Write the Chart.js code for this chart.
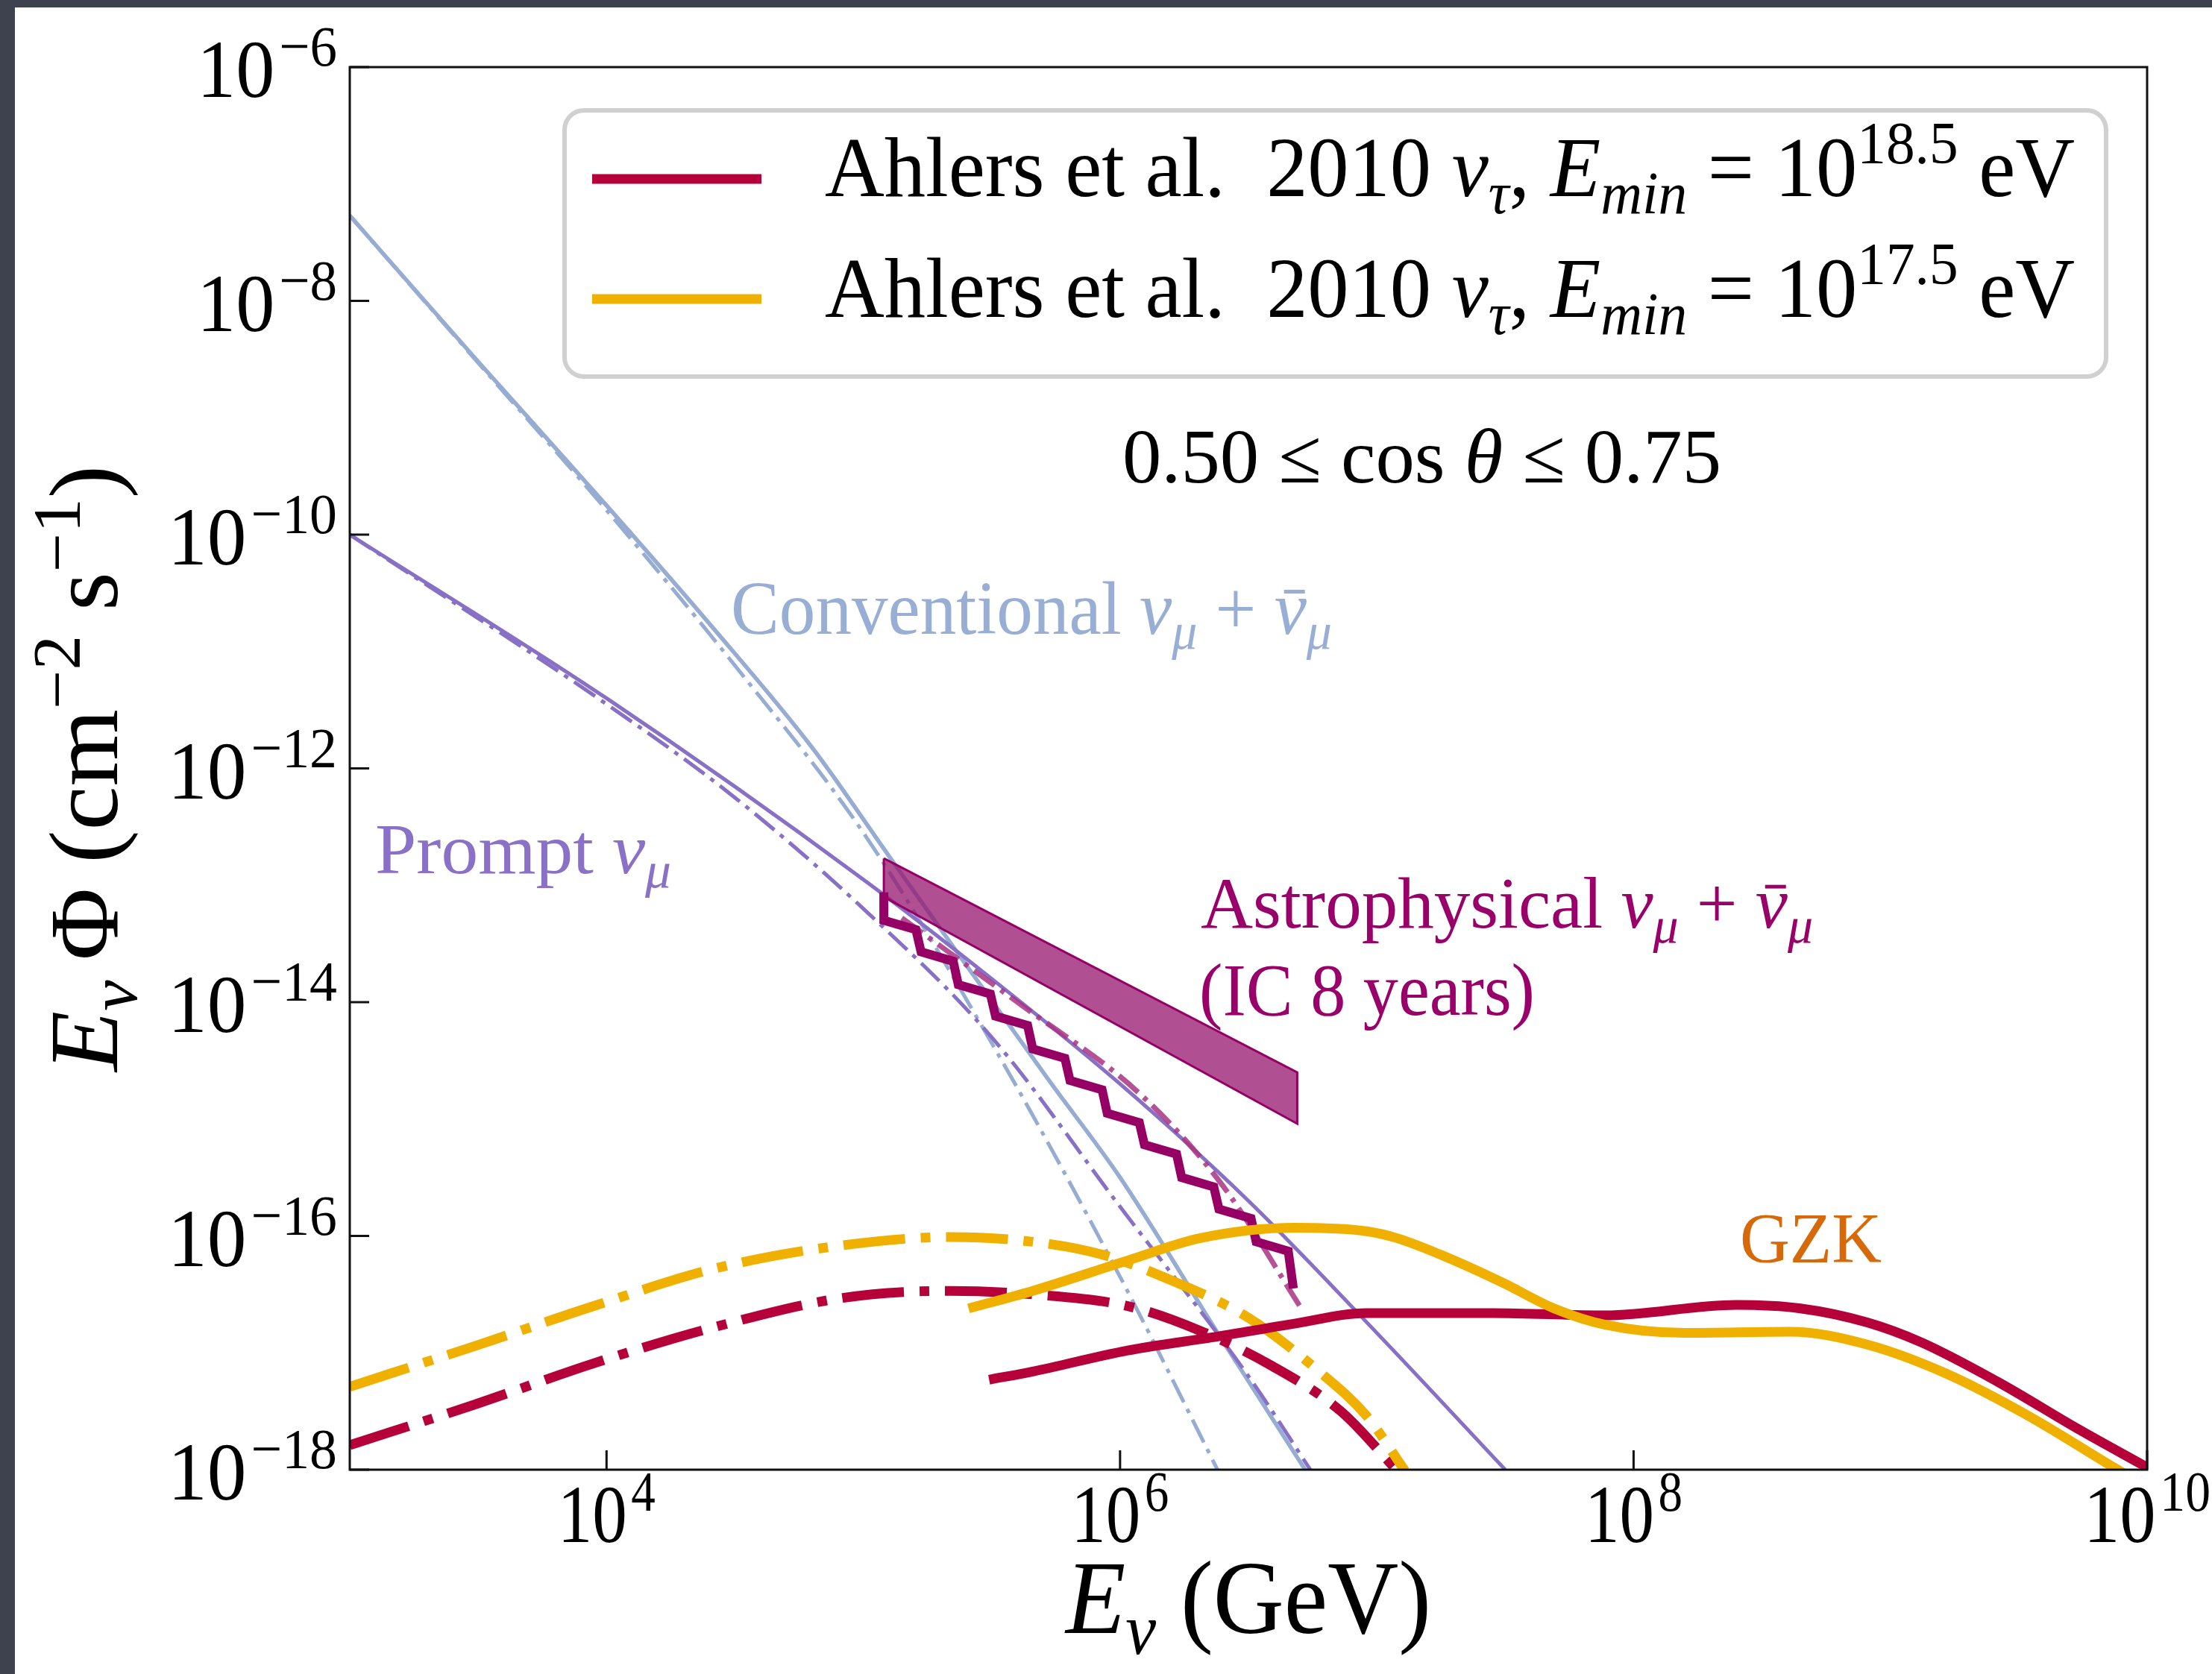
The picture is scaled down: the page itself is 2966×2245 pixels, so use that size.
<!DOCTYPE html>
<html>
<head>
<meta charset="utf-8">
<script src="https://cdn.jsdelivr.net/npm/chart.js@4.4.1/dist/chart.umd.min.js"></script>
<style>
  html, body { margin: 0; padding: 0; background: #3e424e; }
  canvas { display: block; }
</style>
</head>
<body>
<canvas id="fluxChart" width="2966" height="2245"></canvas>
<script>
// all values are log10: energy in GeV, flux E*Phi in cm^-2 s^-1
const convE = [3.0, 3.5, 4.0, 4.4, 4.8, 5.1, 5.4, 5.73, 6.0, 6.4, 6.75];
const convF = [-7.27, -8.52, -9.75, -10.76, -11.82, -12.75, -13.68, -14.69, -15.5, -16.9, -18.1];
const convDdE = [3.0, 3.5, 4.0, 4.5, 5.0, 5.5, 6.0, 6.4];
const convDdF = [-7.27, -8.53, -9.79, -11.12, -12.55, -14.35, -16.35, -18.09];

const promptE = [3.0, 4.0, 5.0, 5.5, 6.0, 6.5, 7.0, 7.5];
const promptF = [-10.0, -11.4, -12.95, -13.8, -14.7, -15.7, -16.83, -18.0];
const promptDdE = [3.0, 4.0, 4.5, 5.0, 5.5, 6.0, 6.5, 6.75];
const promptDdF = [-10.0, -11.45, -12.25, -13.2, -14.3, -15.75, -17.2, -18.03];

// IceCube 8 yr astrophysical band (left / right edge)
const bandE = [5.08, 6.69];
const bandTop = [-12.77, -14.6];
const bandBot = [-13.1, -15.04];

// propagated astrophysical flux (step line) and its dash-dot companion
const stepE = [5.08, 5.08, 5.205, 5.225, 5.35, 5.37, 5.495, 5.515, 5.64, 5.66, 5.785, 5.805,
               5.93, 5.95, 6.075, 6.095, 6.22, 6.24, 6.365, 6.385, 6.51, 6.53, 6.655, 6.675];
const stepF = [-13.06, -13.30, -13.38, -13.57, -13.65, -13.85, -13.93, -14.12, -14.20, -14.40, -14.48, -14.67,
               -14.75, -14.95, -15.03, -15.22, -15.30, -15.50, -15.58, -15.77, -15.85, -16.05, -16.13, -16.45];
const astroDdE = [5.15, 5.6, 6.08, 6.4, 6.7];
const astroDdF = [-13.28, -14.0, -14.79, -15.57, -16.6];

// Ahlers et al. 2010, E_min = 10^18.5 eV (red) and 10^17.5 eV (yellow)
const redE = [5.49, 5.66, 6.03, 6.38, 6.68, 6.96, 7.45, 7.89, 8.40, 8.65, 8.91, 9.12, 9.42, 9.73, 10.0];
const redF = [-17.23, -17.16, -16.98, -16.86, -16.75, -16.66, -16.66, -16.68, -16.59, -16.62, -16.74, -16.91, -17.25, -17.65, -17.98];
const yelE = [5.41, 5.66, 6.03, 6.31, 6.68, 6.96, 7.08, 7.28, 7.49, 7.69, 7.89, 8.20, 8.61, 8.91, 9.22, 9.53, 9.87, 10.0];
const yelF = [-16.62, -16.47, -16.21, -16.02, -15.93, -15.96, -16.02, -16.19, -16.40, -16.62, -16.76, -16.83, -16.82, -16.93, -17.18, -17.53, -17.98, -18.15];
const redDdE = [3.0, 3.49, 3.95, 4.42, 4.92, 5.34, 5.66, 6.03, 6.31, 6.59, 6.86, 7.08];
const redDdF = [-17.79, -17.44, -17.09, -16.78, -16.53, -16.47, -16.50, -16.60, -16.81, -17.11, -17.50, -18.01];
const yelDdE = [3.0, 3.49, 3.95, 4.42, 4.92, 5.34, 5.66, 5.93, 6.21, 6.50, 6.77, 6.96, 7.11];
const yelDdF = [-17.29, -16.94, -16.60, -16.28, -16.08, -16.01, -16.05, -16.16, -16.39, -16.70, -17.15, -17.54, -18.01];

const xTickExp = [4, 6, 8, 10];
const yTickExp = [-18, -16, -14, -12, -10, -8, -6];

const legendLabels = ["18.5", "17.5"];

const RED = "#b5003a", YEL = "#f0b000", CONV = "#97acd3", PROMPT = "#8770c6", ASTRO = "#960064";
const FONT = '"Liberation Serif", "DejaVu Serif", serif';

function pts(E, F) {
  return E.map((e, i) => ({ x: Math.pow(10, e), y: Math.pow(10, F[i]) }));
}

function line(data, color, width, dash, smooth) {
  return {
    data: data, borderColor: color, borderWidth: width, borderDash: dash || [],
    pointRadius: 0, fill: false, clip: 0, borderCapStyle: "butt",
    tension: 0, cubicInterpolationMode: smooth ? "monotone" : "default"
  };
}

const thinDD = [34, 10, 6, 10];
const thickDD = [83, 21, 13, 21];

const bandPoly = [
  { x: Math.pow(10, bandE[0]), y: Math.pow(10, bandTop[0]) },
  { x: Math.pow(10, bandE[1]), y: Math.pow(10, bandTop[1]) },
  { x: Math.pow(10, bandE[1]), y: Math.pow(10, bandBot[1]) },
  { x: Math.pow(10, bandE[0]), y: Math.pow(10, bandBot[0]) },
  { x: Math.pow(10, bandE[0]), y: Math.pow(10, bandTop[0]) }
];

// first dataset is drawn on top
const datasets = [
  line(pts(yelE, yelF), YEL, 13, null, true),
  line(pts(redE, redF), RED, 13, null, true),
  line(pts(yelDdE, yelDdF), YEL, 13, thickDD, true),
  line(pts(redDdE, redDdF), RED, 13, thickDD, true),
  Object.assign(line(pts(stepE, stepF), ASTRO, 12, null, false), { borderJoinStyle: "miter" }),
  line(pts(astroDdE, astroDdF), "rgba(170,50,130,0.85)", 7, thinDD, true),
  Object.assign(line(bandPoly, "rgb(150,0,100)", 3, null, false),
    { fill: "shape", backgroundColor: "rgba(150,22,110,0.75)" }),
  line(pts(promptE, promptF), PROMPT, 5, null, true),
  line(pts(promptDdE, promptDdF), PROMPT, 5, thinDD, true),
  line(pts(convE, convF), CONV, 5.5, null, true),
  line(pts(convDdE, convDdF), CONV, 5, thinDD, true)
];

// text pieces; style: i = italic, b = subscript, p = superscript, o = overbar
function drawRich(ctx, parts, x, y, o) {
  const size = o.size;
  ctx.save();
  ctx.fillStyle = o.color || "#000";
  ctx.strokeStyle = o.color || "#000";
  ctx.textBaseline = "alphabetic";
  ctx.textAlign = "left";
  const segs = parts.map(([t, s]) => {
    const small = s.includes("b") || s.includes("p");
    const fs = small ? size * 0.7 : size;
    const font = (s.includes("i") ? "italic " : "") + fs + "px " + FONT;
    ctx.font = font;
    const w = ctx.measureText(t).width;
    const dy = s.includes("b") ? size * 0.2 : s.includes("p") ? -size * 0.38 : 0;
    return { t, font, w, dy, bar: s.includes("o") };
  });
  const natural = segs.reduce((a, s) => a + s.w, 0);
  const hs = o.width ? o.width / natural : (o.hs || 1);
  ctx.translate(x, y);
  if (o.rot) ctx.rotate(o.rot);
  ctx.scale(hs, 1);
  let cx = o.align === "center" ? -natural / 2 : o.align === "right" ? -natural : 0;
  for (const s of segs) {
    ctx.font = s.font;
    ctx.fillText(s.t, cx, s.dy);
    if (s.bar) {
      ctx.lineWidth = size * 0.05;
      ctx.beginPath();
      ctx.moveTo(cx + s.w * 0.3, -size * 0.56);
      ctx.lineTo(cx + s.w * 0.95, -size * 0.56);
      ctx.stroke();
    }
    cx += s.w;
  }
  ctx.restore();
}

const decor = {
  id: "decor",
  beforeDraw(chart) {
    const ctx = chart.ctx;
    ctx.save();
    ctx.fillStyle = "#3e424e";
    ctx.fillRect(0, 0, chart.width, chart.height);
    ctx.fillStyle = "#ffffff";
    ctx.fillRect(20, 10, chart.width - 20, chart.height - 10);
    ctx.restore();
  },
  afterDatasetsDraw(chart) {
    const ctx = chart.ctx;
    const a = chart.chartArea;
    const xs = chart.scales.x, ys = chart.scales.y;
    ctx.save();
    ctx.strokeStyle = "#111";
    ctx.lineWidth = 3;
    ctx.strokeRect(a.left, a.top, a.right - a.left, a.bottom - a.top);
    ctx.beginPath();
    xTickExp.forEach(e => {
      const px = xs.getPixelForValue(Math.pow(10, e));
      ctx.moveTo(px, a.bottom); ctx.lineTo(px, a.bottom - 26);
    });
    yTickExp.forEach(e => {
      const py = ys.getPixelForValue(Math.pow(10, e));
      ctx.moveTo(a.left, py); ctx.lineTo(a.left + 26, py);
    });
    ctx.stroke();
    ctx.restore();

    xTickExp.forEach(e => {
      const px = xs.getPixelForValue(Math.pow(10, e));
      const w = 131 + 39 * (String(e).length - 1);
      drawRich(ctx, [["10", ""], ["\u200a" + e, "p"]], px, a.bottom + 97, { size: 110, width: w, align: "center" });
    });
    yTickExp.forEach(e => {
      const py = ys.getPixelForValue(Math.pow(10, e));
      const w = 188 + 39 * (String(Math.abs(e)).length - 1);
      drawRich(ctx, [["10", ""], ["\u200a\u2212" + Math.abs(e), "p"]], a.left - 17, py + 40, { size: 110, width: w, align: "right" });
    });

    drawRich(ctx, [["E", "i"], ["\u03bd", "ib"], [" (GeV)", ""]], (a.left + a.right) / 2, 2190,
      { size: 139, width: 490, align: "center" });
    drawRich(ctx, [["E", "i"], ["\u03bd", "ib"], ["\u2009\u03a6 (cm", ""], ["\u22122", "p"], [" s", ""], ["\u22121", "p"], [")", ""]],
      157, (a.top + a.bottom) / 2, { size: 131, width: 813, align: "center", rot: -Math.PI / 2 });

    drawRich(ctx, [["Conventional ", ""], ["\u03bd", "i"], ["\u03bc", "ib"], [" + ", ""], ["\u03bd", "io"], ["\u03bc", "ib"]],
      980, 850, { size: 101, width: 806, color: "#98aed5" });
    drawRich(ctx, [["Prompt ", ""], ["\u03bd", "i"], ["\u03bc", "ib"]],
      503, 1171, { size: 96, width: 397, color: "#8b70c8" });
    drawRich(ctx, [["0.50 \u2264 cos ", ""], ["\u03b8", "i"], [" \u2264 0.75", ""]],
      1505, 647, { size: 104, width: 803, color: "#000" });
    drawRich(ctx, [["Astrophysical ", ""], ["\u03bd", "i"], ["\u03bc", "ib"], [" + ", ""], ["\u03bd", "io"], ["\u03bc", "ib"]],
      1610, 1244, { size: 98, width: 821, color: "#9a006a" });
    drawRich(ctx, [["(IC 8 years)", ""]], 1608, 1361, { size: 100, width: 450, color: "#9a006a" });
    drawRich(ctx, [["GZK", ""]], 2333, 1693, { size: 95, width: 190, color: "#d66a0a" });
  },
  afterDraw(chart) {
    const ctx = chart.ctx;
    ctx.save();
    ctx.fillStyle = "rgba(255,255,255,0.9)";
    ctx.strokeStyle = "#d0d0d0";
    ctx.lineWidth = 6;
    ctx.beginPath();
    ctx.roundRect(757, 148, 2824 - 757, 505 - 148, 26);
    ctx.fill();
    ctx.stroke();
    const rows = [{ y: 240, base: 263, color: RED }, { y: 401, base: 425, color: YEL }];
    rows.forEach((r, i) => {
      ctx.strokeStyle = r.color;
      ctx.lineWidth = 13;
      ctx.lineCap = "butt";
      ctx.beginPath();
      ctx.moveTo(794, r.y); ctx.lineTo(1021, r.y);
      ctx.stroke();
      drawRich(ctx, [["Ahlers et al.  2010 ", ""], ["\u03bd", "i"], ["\u03c4", "ib"], [", ", ""], ["E", "i"], ["min", "ib"],
        [" = 10", ""], [legendLabels[i], "p"], [" eV", ""]], 1106, r.base, { size: 115, width: 1676 });
    });
    ctx.restore();
  }
};

new Chart(document.getElementById("fluxChart"), {
  type: "line",
  data: { datasets: datasets },
  options: {
    responsive: false,
    animation: false,
    events: [],
    layout: { padding: { left: 469, top: 90, right: 87, bottom: 274 } },
    plugins: { legend: { display: false }, tooltip: { enabled: false } },
    scales: {
      x: { type: "logarithmic", min: 1e3, max: 1e10, display: false },
      y: { type: "logarithmic", min: 1e-18, max: 1e-6, display: false }
    }
  },
  plugins: [decor]
});
</script>
</body>
</html>
